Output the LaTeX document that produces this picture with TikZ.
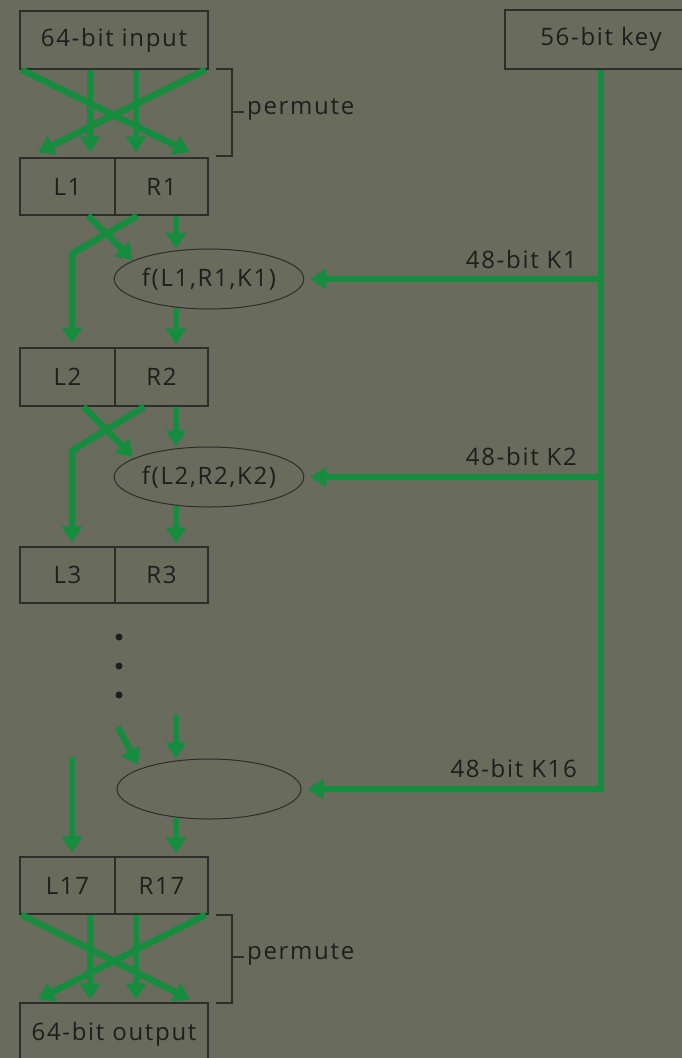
\documentclass[tikz,border=0pt]{standalone}
\usepackage{fontspec}
\setmainfont[LetterSpace=7]{Open Sans}
\usetikzlibrary{arrows.meta,calc,shapes.geometric}
\definecolor{bg}{RGB}{105,107,93}
\definecolor{grn}{RGB}{22,140,62}
\definecolor{txt}{RGB}{30,30,30}
\definecolor{edge}{RGB}{45,45,43}
\tikzset{
  box/.style={draw=edge,line width=1.4pt,inner sep=0pt,text=txt,font=\fontsize{24}{27}\selectfont},
  fbox/.style={draw=edge,line width=1pt,ellipse,inner sep=0pt,minimum width=184pt,minimum height=60pt,text=txt,font=\fontsize{24}{27}\selectfont},
  lbl/.style={inner sep=0pt,text=txt,font=\fontsize{24}{27}\selectfont},
  garrow/.style={draw=grn,line width=6.5pt,-{Triangle[length=16pt,width=20pt]}},
  keyline/.style={draw=grn,line width=6.5pt},
  brk/.style={draw=edge,line width=1.5pt},
  dotn/.style={circle,fill=txt,inner sep=0pt,minimum size=7pt}
}
\begin{document}
\begin{tikzpicture}[x=1pt,y=-1pt]
\useasboundingbox (0,0) rectangle (682,1058);
\fill[bg] (0,0) rectangle (682,1058);

% boxes
\node[box,minimum width=188pt,minimum height=58pt] (in) at (114,40) {64-bit input};
\node[box,minimum width=192pt,minimum height=59pt] (key) at (601,39.5) {56-bit key};
\node[box,minimum width=95pt,minimum height=57pt] (L1) at (67.5,186.5) {L1};
\node[box,minimum width=93pt,minimum height=57pt] (R1) at (161.5,186.5) {R1};
\node[box,minimum width=95pt,minimum height=58pt] (L2) at (67.5,377) {L2};
\node[box,minimum width=93pt,minimum height=58pt] (R2) at (161.5,377) {R2};
\node[box,minimum width=95pt,minimum height=56pt] (L3) at (67.5,575) {L3};
\node[box,minimum width=93pt,minimum height=56pt] (R3) at (161.5,575) {R3};
\node[box,minimum width=95pt,minimum height=57pt] (L17) at (67.5,885.5) {L17};
\node[box,minimum width=93pt,minimum height=57pt] (R17) at (161.5,885.5) {R17};
\node[box,minimum width=188pt,minimum height=62pt] (out) at (114,1034) {64-bit output};

% f boxes
\node[fbox] (f1) at (209,279) {f(L1,R1,K1)};
\node[fbox] (f2) at (209,477) {f(L2,R2,K2)};
\node[fbox] (f3) at (209,789) {};

% top permute
\draw[garrow] ($(in.south west)+(2,0)$) -- ($(R1.north)+(28,-5)$);
\draw[garrow] ($(in.south)+(-24,0)$) -- ($(L1.north)+(22.5,-5)$);
\draw[garrow] ($(in.south)+(22,0)$) -- ($(R1.north)+(-25.5,-5)$);
\draw[garrow] ($(in.south east)+(-3,0)$) -- ($(L1.north)+(-29.5,-5)$);
\draw[brk] (216,69) -- (232,69) -- (232,156) -- (216,156);
\draw[brk] (232,112) -- (244,112);
\node[lbl,anchor=mid west] (p1) at (247,112) {permute};

% round 1
\draw[garrow] ($(L1.south)+(20.5,0)$) -- ($(f1.center)+(-76,-19)$);
\draw[garrow] ($(R1.south west)+(23,0)$) -- ($(L1.south)+(4.5,38)$) -- ($(L2.north)+(4.5,-4)$);
\draw[garrow] ($(R1.south)+(14.5,0)$) -- ($(f1.north)+(-33,0)$);
\draw[garrow] ($(f1.south)+(-33,-2)$) -- ($(R2.north)+(14.5,-3)$);

% round 2
\draw[garrow] ($(L2.south)+(16,0)$) -- ($(f2.center)+(-76,-20)$);
\draw[garrow] ($(R2.south west)+(30,0)$) -- ($(L2.south)+(4.5,44)$) -- ($(L3.north)+(4.5,-4)$);
\draw[garrow] ($(R2.south)+(14.5,0)$) -- ($(f2.north)+(-33,0)$);
\draw[garrow] ($(f2.south)+(-33,-2)$) -- ($(R3.north)+(14.5,-3)$);

% dots
\node[dotn] (d1) at (119,637) {};
\node[dotn] (d2) at (119,666) {};
\node[dotn] (d3) at (119,695) {};

% round 16
\coordinate (s1) at (118,727);
\coordinate (s2) at (176,715);
\coordinate (s3) at (72,757);
\draw[garrow] (s1) -- ($(f3.center)+(-71,-24)$);
\draw[garrow] (s2) -- ($(f3.north)+(-33,0)$);
\draw[garrow] (s3) -- ($(L17.north)+(4.5,-4)$);
\draw[garrow] ($(f3.south)+(-33,-2)$) -- ($(R17.north)+(14.5,-3)$);

% key schedule
\draw[keyline] (key.south) -- ([yshift=-3.25pt]key.south |- f3.east);
\draw[garrow] (key.south |- f1.east) -- ($(f1.east)+(6,0)$);
\draw[garrow] (key.south |- f2.east) -- ($(f2.east)+(6,0)$);
\draw[garrow] ([xshift=3.25pt]key.south |- f3.east) -- ($(f3.east)+(6,0)$);
\node[lbl,anchor=base east] (k1) at (577,268) {48-bit K1};
\node[lbl,anchor=base east] (k2) at (577,465) {48-bit K2};
\node[lbl,anchor=base east] (k16) at (577,777) {48-bit K16};

% bottom permute
\draw[garrow] ($(L17.south west)+(2,0)$) -- ($(out.north)+(76,-3)$);
\draw[garrow] ($(L17.south)+(22.5,0)$) -- ($(out.north)+(-24,-3)$);
\draw[garrow] ($(R17.south)+(-25.5,0)$) -- ($(out.north)+(22,-3)$);
\draw[garrow] ($(R17.south east)+(-3,0)$) -- ($(out.north)+(-76,-3)$);
\draw[brk] (216,915) -- (232,915) -- (232,1003) -- (216,1003);
\draw[brk] (232,957) -- (244,957);
\node[lbl,anchor=mid west] (p2) at (247,957) {permute};
\end{tikzpicture}
\end{document}
